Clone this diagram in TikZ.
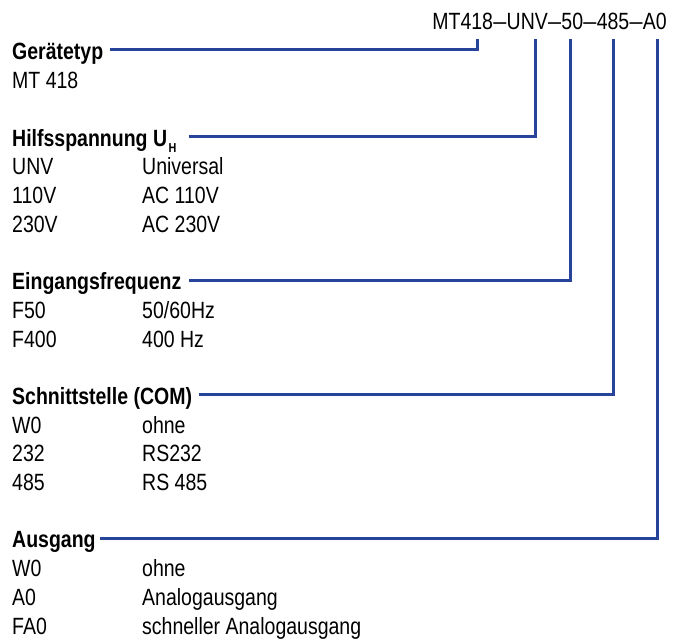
\documentclass[tikz,border=0pt]{standalone}
\usepackage{fontspec}
\setmainfont{Liberation Sans}[FakeStretch=0.83]
\definecolor{lineblue}{HTML}{27449A}
\newcommand{\codedash}{\kern0.3pt\scalebox{1.2}[1]{–}\kern0.3pt}
\begin{document}
\begin{tikzpicture}[x=1pt,y=-1pt,
  txt/.style={anchor=base west, inner sep=0pt, font=\fontsize{23.5}{28}\selectfont},
  head/.style={txt, font=\fontsize{23.5}{28}\selectfont\bfseries},
  conn/.style={draw=lineblue, line width=3pt}]
\useasboundingbox (0,0) rectangle (685,639);
% title code
\node[txt, anchor=base east] (code) at (667,30) {MT418\codedash UNV\codedash 50\codedash 485\codedash A0};
% Gerätetyp
\node[head] (h1) at (12,60) {Gerätetyp};
\node[txt] (a1) at (12,88.7) {MT 418};
% Hilfsspannung
\node[head] (h2) at (12,146.1) {Hilfsspannung U\kern1.5pt\raisebox{-6pt}{\fontsize{13}{13}\selectfont H}};
\node[txt] (b1) at (12,174.8) {UNV};   \node[txt] (b1v) at (142,174.8) {Universal};
\node[txt] (b2) at (12,203.5) {110V};  \node[txt] (b2v) at (142,203.5) {AC 110V};
\node[txt] (b3) at (12,232.2) {230V};  \node[txt] (b3v) at (142,232.2) {AC 230V};
% Eingangsfrequenz
\node[head] (h3) at (12,289.6) {Eingangsfrequenz};
\node[txt] (c1) at (12,318.3) {F50};   \node[txt] (c1v) at (142,318.3) {50/60Hz};
\node[txt] (c2) at (12,347) {F400};    \node[txt] (c2v) at (142,347) {400 Hz};
% Schnittstelle
\node[head] (h4) at (12,404.4) {Schnittstelle (COM)};
\node[txt] (d1) at (12,433.1) {W0};    \node[txt] (d1v) at (142,433.1) {ohne};
\node[txt] (d2) at (12,461.8) {232};   \node[txt] (d2v) at (142,461.8) {RS232};
\node[txt] (d3) at (12,490.5) {485};   \node[txt] (d3v) at (142,490.5) {RS 485};
% Ausgang
\node[head] (h5) at (12,547.9) {Ausgang};
\node[txt] (e1) at (12,576.6) {W0};    \node[txt] (e1v) at (142,576.6) {ohne};
\node[txt] (e2) at (12,605.3) {A0};    \node[txt] (e2v) at (142,605.3) {Analogausgang};
\node[txt] (e3) at (12,634) {FA0};     \node[txt] (e3v) at (142,634) {schneller Analogausgang};
% connector tops
\coordinate (t1) at (477,39);
\coordinate (t2) at (535,39);
\coordinate (t3) at (570,39);
\coordinate (t4) at (613,39);
\coordinate (t5) at (657,39);
\draw[conn] ([shift={(7pt,10pt)}]h1.base east) -| (t1);
\draw[conn] ([shift={(12pt,10pt)}]h2.base east) -| (t2);
\draw[conn] ([shift={(8pt,9pt)}]h3.base east) -| (t3);
\draw[conn] ([shift={(7pt,10pt)}]h4.base east) -| (t4);
\draw[conn] ([shift={(4pt,9pt)}]h5.base east) -| (t5);
\end{tikzpicture}
\end{document}
